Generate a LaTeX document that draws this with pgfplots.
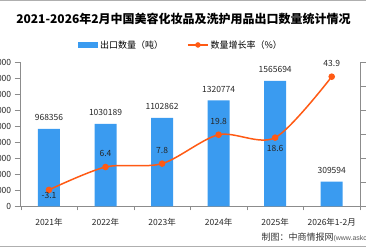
\documentclass[border=0pt]{standalone}
\usepackage{fontspec}
\setmainfont{Noto Sans CJK SC}
\newfontfamily\latinfont{Liberation Sans}
\usepackage{pgfplots}
\pgfplotsset{compat=1.18}
\usepackage{pgfplotstable}

\definecolor{barblue}{RGB}{58,155,240}
\definecolor{linered}{RGB}{255,90,20}
\definecolor{axisgray}{RGB}{140,140,140}
\definecolor{framegray}{RGB}{175,175,175}

% export volume (tonnes)
\pgfplotstableread{
x y
0 968356
1 1030189
2 1102862
3 1320774
4 1565694
5 309594
}\volume

% growth rate (%)
\pgfplotstableread{
x y
0 -3.1
1 6.4
2 7.8
3 19.8
4 18.6
5 43.9
}\growth

\begin{document}
\begin{tikzpicture}[x=1pt,y=1pt]
\useasboundingbox (0,0) rectangle (366,248);
\clip (0,0) rectangle (366,248);
\draw[framegray] (0,247.5) -- (366,247.5);
\draw[framegray] (0,1.5) -- (366,1.5);

\node[font=\bfseries\fontsize{12}{14}\selectfont] at (183.5,229)
  {2021-2026年2月中国美容化妆品及洗护用品出口数量统计情况};

\begin{axis}[
  at={(20.7pt,41.5pt)}, anchor=south west,
  scale only axis, width=339.3pt, height=144.5pt,
  xmin=-0.5, xmax=5.5, ymin=0, ymax=1800000,
  xtick={0,...,5},
  xticklabels={2021年,2022年,2023年,2024年,2025年,2026年1-2月},
  minor xtick={-0.5,0.5,...,5.5},
  ytick={0,200000,...,1800000},
  scaled y ticks=false,
  /pgf/number format/assume math mode=true,
  yticklabel style={/pgf/number format/.cd, fixed, 1000 sep={}},
  axis y line*=left, axis x line*=bottom,
  axis line style={draw=axisgray},
  tick style={draw=axisgray},
  tick align=outside,
  major tick length=6pt,
  major x tick style={draw=none},
  minor tick length=4pt,
  ticklabel style={font=\fontsize{8.5}{9}\selectfont, text=black!85},
  xticklabel style={yshift=-2pt},
  legend style={at={(axis description cs:0.16,1.118)}, anchor=west,
    draw=none, fill=none, legend columns=2,
    font=\fontsize{9}{10}\selectfont,
    /tikz/every even column/.append style={column sep=22pt}},
]
\addplot[ybar, bar width=22pt, fill=barblue, draw=none,
  point meta=explicit symbolic,
  nodes near coords={\pgfplotspointmeta},
  nodes near coords style={font=\fontsize{8.5}{9}\selectfont, text=black!85,
    anchor=south, inner sep=1pt, yshift=7pt},
  legend image code/.code={\fill[barblue] (0pt,-3pt) rectangle (20pt,3pt);}]
  table[x=x, y=y, meta=y] {\volume};
\addlegendentry{出口数量（吨）}
\addlegendimage{legend image code/.code={
  \draw[linered, line width=1.5pt] (0pt,0pt) -- (20pt,0pt);
  \fill[linered] (10pt,0pt) circle (2.5pt);}}
\addlegendentry{数量增长率（\%）}
\end{axis}

\begin{axis}[
  at={(20.7pt,41.5pt)}, anchor=south west,
  scale only axis, width=339.3pt, height=144.5pt,
  xmin=-0.5, xmax=5.5, ymin=-10, ymax=50,
  ytick={-10,0,...,50},
  axis x line=none, axis y line*=right,
  axis line style={draw=axisgray},
  tick style={draw=axisgray},
  tick align=outside, major tick length=6pt,
  /pgf/number format/assume math mode=true,
  ticklabel style={font=\fontsize{8.5}{9}\selectfont},
]
\addplot[smooth, color=linered, line width=1.5pt,
  mark=*, mark size=2.5pt, mark options={fill=linered, draw=linered},
  point meta=explicit symbolic,
  nodes near coords={\pgfplotspointmeta},
  nodes near coords style={font=\fontsize{8.5}{9}\selectfont, text=black!85,
    anchor=center, inner sep=1pt, yshift=13.5pt},
  coordinate style/.condition={\coordindex==0}{yshift=-19pt},
  coordinate style/.condition={\coordindex==4}{yshift=-24.5pt}]
  table[x=x, y=y, meta=y] {\growth};
\end{axis}

\node[anchor=west, font=\fontsize{9}{10}\selectfont, text=black!80] at (258,11)
  {制图：中商情报网{\latinfont\fontsize{7}{8}\selectfont\color{black!65}(www.askci.com)}};
\end{tikzpicture}
\end{document}
